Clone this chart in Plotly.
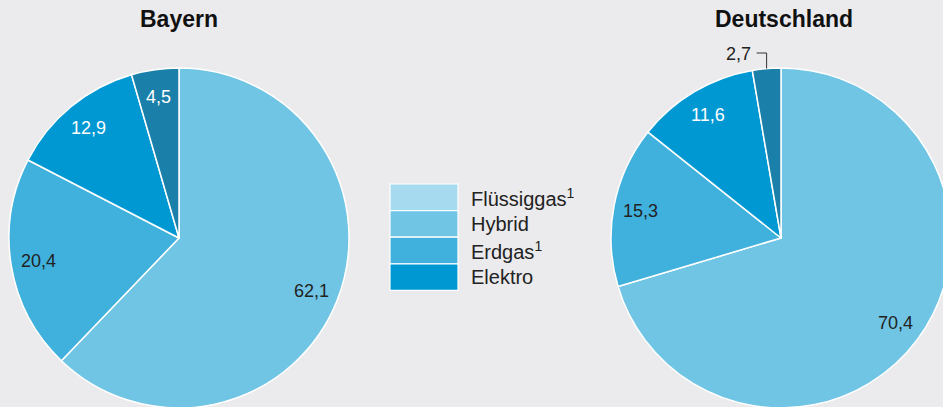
import math
import plotly.graph_objects as go

# ---- data ----
slice_names = ["Hybrid", "Erdgas", "Elektro", "Sonstige"]
bayern_values = [62.1, 20.4, 12.9, 4.5]
deutschland_values = [70.4, 15.3, 11.6, 2.7]
pie_titles = ["Bayern", "Deutschland"]
legend_labels = ["Flüssiggas<sup>1</sup>", "Hybrid", "Erdgas<sup>1</sup>", "Elektro"]

# ---- styles ----
slice_colors = ["#70c5e5", "#40b1dd", "#0098d3", "#1a80a9"]
label_colors = ["#222222", "#222222", "#ffffff", "#ffffff"]
legend_colors = ["#a6daee", "#70c5e5", "#40b1dd", "#0098d3"]
BG = "#ebebed"
FONT = "Liberation Sans, Arial, Helvetica, sans-serif"

W, H = 960, 416          # figure larger than the 943x407 window -> right pie is cropped
R = 170                  # pie radius in px
centers = [(179, 238), (781, 238)]
title_x = [179, 784]
label_frac = 0.84


def px(x):
    return x / W


def py(y):
    return 1 - y / H


fig = go.Figure()
annotations = []
shapes = []

for i, (vals, (cx, cy)) in enumerate(zip([bayern_values, deutschland_values], centers)):
    fig.add_trace(go.Pie(
        labels=slice_names,
        values=vals,
        sort=False,
        direction="clockwise",
        rotation=0,
        textinfo="none",
        hoverinfo="label+value",
        showlegend=False,
        marker=dict(colors=slice_colors, line=dict(color="white", width=1.5)),
        domain=dict(x=[px(cx - R), px(cx + R)], y=[py(cy + R), py(cy - R)]),
    ))
    annotations.append(dict(
        x=px(title_x[i]), y=py(19), xref="paper", yref="paper",
        text="<b>%s</b>" % pie_titles[i], showarrow=False,
        font=dict(family=FONT, size=23, color="#111111"),
        xanchor="center", yanchor="middle",
    ))
    total = sum(vals)
    cum = 0.0
    for j, v in enumerate(vals):
        mid = (cum + v / 2) / total * 2 * math.pi
        cum += v
        txt = ("%.1f" % v).replace(".", ",")
        if v / total < 0.04:
            # small slice: outside label with bracket leader line
            ex = cx + R * math.sin(mid)
            ey = cy - R * math.cos(mid)
            ty = cy - R - 15
            lx = ex - 10
            shapes.append(dict(
                type="path", xref="paper", yref="paper",
                path="M %f,%f L %f,%f L %f,%f" % (px(ex), py(ey), px(ex), py(ty), px(lx), py(ty)),
                line=dict(color="#333333", width=1),
            ))
            annotations.append(dict(
                x=px(lx - 4), y=py(ty + 1), xref="paper", yref="paper",
                text=txt, showarrow=False, xanchor="right", yanchor="middle",
                font=dict(family=FONT, size=18, color="#222222"),
            ))
        else:
            lx = cx + R * label_frac * math.sin(mid)
            ly = cy - R * label_frac * math.cos(mid)
            annotations.append(dict(
                x=px(lx), y=py(ly), xref="paper", yref="paper",
                text=txt, showarrow=False, xanchor="center", yanchor="middle",
                font=dict(family=FONT, size=18, color=label_colors[j]),
            ))

# ---- custom legend ----
box_x0, box_x1 = 390, 458
row_top, row_h = 184, 26.6
for k, (lab, col) in enumerate(zip(legend_labels, legend_colors)):
    y0 = row_top + k * row_h
    shapes.append(dict(
        type="rect", xref="paper", yref="paper",
        x0=px(box_x0), x1=px(box_x1), y0=py(y0), y1=py(y0 + row_h),
        fillcolor=col, line=dict(color="white", width=1.2), layer="above",
    ))
    annotations.append(dict(
        x=px(469), y=py(y0 + row_h / 2), xref="paper", yref="paper",
        text=lab, showarrow=False, xanchor="left", yanchor="middle",
        font=dict(family=FONT, size=20, color="#222222"),
    ))

fig.update_layout(
    width=W, height=H,
    margin=dict(l=0, r=0, t=0, b=0),
    paper_bgcolor=BG, plot_bgcolor=BG,
    annotations=annotations, shapes=shapes,
    font=dict(family=FONT),
)

fig.write_html(
    "out.html",
    config={"displayModeBar": False},
    post_script="document.body.style.margin='0';document.body.style.overflow='hidden';"
                "document.documentElement.style.overflow='hidden';"
                "document.body.style.background='%s';" % BG,
)
